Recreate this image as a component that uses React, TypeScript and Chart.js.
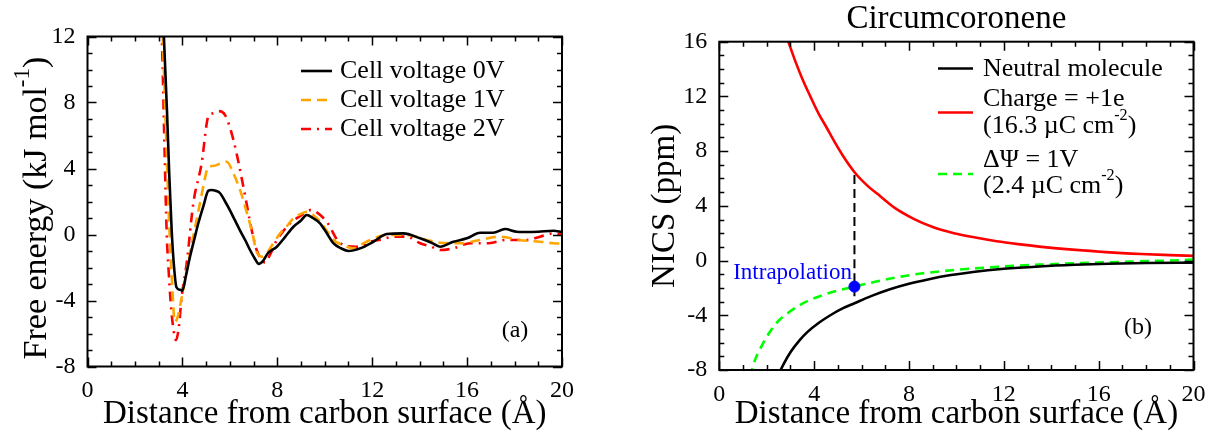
import React, { useEffect, useRef } from "react";
import { Chart, registerables } from "chart.js";

Chart.register(...registerables);

const SERIF = "'Liberation Serif', 'Times New Roman', Times, serif";
Chart.defaults.font.family = SERIF;
Chart.defaults.font.size = 24;
Chart.defaults.color = "#000";

// ---------------- Panel (a): free energy profiles ----------------
const distance0V = [3.15, 3.22, 3.35, 3.45, 3.55, 3.65, 3.75, 3.9, 4.0, 4.15, 4.32, 4.5, 4.67, 4.9, 5.09, 5.22, 5.4, 5.59, 5.8, 6.0, 6.2, 6.42, 6.65, 6.85, 7.05, 7.22, 7.4, 7.61, 7.98, 8.3, 8.68, 9.0, 9.24, 9.5, 9.8, 10.1, 10.36, 10.7, 11.0, 11.49, 12.05, 12.61, 13.31, 14.02, 14.5, 14.86, 15.42, 15.99, 16.55, 17.1, 17.6, 18.09, 18.6, 19.0, 19.64, 20.0];
const energy0V = [14.0, 12.0, 7.5, 3.5, 0.2, -2.0, -3.2, -3.35, -3.4, -2.5, -1.35, -0.3, 0.68, 1.8, 2.65, 2.7, 2.65, 2.5, 2.0, 1.48, 0.9, 0.27, -0.35, -0.94, -1.45, -1.78, -1.6, -1.12, -0.74, -0.2, 0.47, 0.85, 1.18, 1.0, 0.68, 0.05, -0.53, -0.85, -1.0, -0.84, -0.44, 0.03, 0.07, -0.23, -0.5, -0.74, -0.44, -0.23, 0.11, 0.11, 0.33, 0.17, 0.15, 0.17, 0.23, 0.15];

const distance1V = [3.1, 3.17, 3.3, 3.45, 3.55, 3.68, 3.8, 3.92, 4.04, 4.17, 4.3, 4.5, 4.74, 4.92, 5.09, 5.3, 5.6, 5.87, 6.15, 6.43, 6.7, 6.92, 7.13, 7.35, 7.55, 7.8, 8.12, 8.4, 8.68, 9.0, 9.24, 9.5, 9.8, 10.1, 10.36, 10.8, 11.2, 11.55, 11.91, 12.61, 13.46, 14.3, 14.86, 15.7, 16.55, 17.37, 18.2, 19.08, 19.64, 20.0];
const energy1V = [14.0, 12.0, 6.5, 0.4, -2.5, -5.3, -5.0, -4.2, -3.3, -2.3, -1.3, 0.2, 1.89, 3.2, 4.1, 4.15, 4.3, 4.41, 3.7, 2.7, 1.4, 0.27, -1.04, -1.35, -1.14, -0.6, 0.07, 0.5, 0.98, 1.25, 1.38, 1.2, 0.78, 0.2, -0.33, -0.65, -0.84, -0.6, -0.33, -0.03, -0.03, -0.33, -0.5, -0.53, -0.33, -0.13, -0.33, -0.44, -0.53, -0.55];

const distance2V = [3.05, 3.13, 3.25, 3.34, 3.42, 3.5, 3.6, 3.73, 3.85, 3.97, 4.18, 4.46, 4.81, 5.09, 5.3, 5.51, 5.8, 6.15, 6.57, 6.92, 7.13, 7.3, 7.48, 7.7, 7.98, 8.25, 8.54, 9.0, 9.38, 9.6, 10.08, 10.65, 11.35, 11.91, 12.4, 12.89, 13.46, 14.02, 14.5, 14.86, 15.42, 16.13, 16.83, 17.67, 18.52, 19.08, 19.64, 20.0];
const energy2V = [14.0, 12.0, 5.0, 0.0, -2.2, -4.0, -5.5, -6.4, -5.6, -3.77, -1.75, 1.89, 4.31, 7.14, 7.35, 7.48, 7.24, 5.73, 2.9, 0.27, -0.94, -1.45, -1.7, -1.2, -0.33, 0.2, 0.68, 1.15, 1.48, 1.4, 0.78, -0.53, -0.74, -0.44, -0.3, -0.13, -0.13, -0.53, -0.75, -0.94, -0.84, -0.53, -0.53, -0.33, -0.33, -0.13, 0.07, 0.0];

const seriesLabelsA = ["Cell voltage 0V", "Cell voltage 1V", "Cell voltage 2V"];

// ---------------- Panel (b): NICS of circumcoronene ----------------
const distanceNeutral = [2.45, 2.7, 3.0, 3.4, 3.7, 4.2, 4.7, 5.2, 5.7, 6.4, 7.2, 8.0, 8.8, 9.7, 10.7, 12.0, 13.5, 15.0, 16.4, 18.0, 20.0];
const nicsNeutral = [-8.5, -7.6, -6.7, -5.8, -5.25, -4.55, -3.98, -3.5, -3.12, -2.6, -2.1, -1.7, -1.38, -1.08, -0.83, -0.6, -0.43, -0.31, -0.23, -0.18, -0.15];

const distanceCharged = [2.85, 3.2, 3.5, 3.84, 4.2, 4.5, 4.82, 5.2, 5.73, 6.2, 6.79, 7.4, 8.2, 9.0, 9.9, 10.8, 11.7, 12.6, 13.5, 14.9, 16.3, 17.8, 19.0, 20.0];
const nicsCharged = [16.3, 14.6, 13.3, 12.0, 10.7, 9.8, 8.8, 7.7, 6.4, 5.55, 4.7, 3.85, 3.05, 2.45, 2.0, 1.68, 1.41, 1.2, 1.02, 0.8, 0.62, 0.48, 0.4, 0.34];

const distanceVoltage = [1.3, 1.5, 1.8, 2.1, 2.5, 3.0, 3.5, 4.0, 4.5, 5.0, 5.7, 6.5, 7.5, 8.5, 9.5, 10.7, 12.0, 13.5, 15.0, 16.5, 18.0, 19.0, 20.0];
const nicsVoltage = [-8.5, -7.3, -6.2, -5.3, -4.4, -3.7, -3.15, -2.75, -2.45, -2.2, -1.9, -1.58, -1.22, -0.95, -0.76, -0.58, -0.43, -0.3, -0.2, -0.12, -0.04, 0.0, 0.08];

const intrapolationX = [5.7, 5.7];
const intrapolationLineY = [-2.6, 6.35];
const intrapolationPointX = [5.7];
const intrapolationPointY = [-1.9];

const seriesLabelsB = ["Neutral molecule", "Charge = +1e (16.3 µC cm-2)", "ΔΨ = 1V (2.4 µC cm-2)"];

const toXY = (xs: number[], ys: number[]) => xs.map((x, i) => ({ x, y: ys[i] }));

type Part = { t: string; sup?: boolean };

function drawRich(ctx: CanvasRenderingContext2D, parts: Part[], x: number, y: number, size: number, color = "#000", align: "left" | "center" | "right" = "left", supScale = 0.62) {
  const widths: number[] = [];
  let total = 0;
  parts.forEach((p) => {
    ctx.font = `${p.sup ? size * supScale : size}px ${SERIF}`;
    const w = ctx.measureText(p.t).width;
    widths.push(w);
    total += w;
  });
  let cx = align === "center" ? x - total / 2 : align === "right" ? x - total : x;
  ctx.fillStyle = color;
  ctx.textAlign = "left";
  ctx.textBaseline = "middle";
  parts.forEach((p, i) => {
    ctx.font = `${p.sup ? size * supScale : size}px ${SERIF}`;
    ctx.fillText(p.t, cx, p.sup ? y - size * 0.4 : y);
    cx += widths[i];
  });
}

// inward ticks on all four sides + frame
const frameTicks = {
  id: "frameTicks",
  afterDatasetsDraw(chart: any) {
    const { ctx, chartArea } = chart;
    const { left, right, top, bottom } = chartArea;
    const xs = chart.scales.x;
    const ys = chart.scales.y;
    ctx.save();
    ctx.strokeStyle = "#000";
    ctx.lineWidth = 1.5;
    ctx.beginPath();
    for (let v = Math.ceil(xs.min); v <= xs.max; v += 1) {
      const len = Math.abs(v % 4) === 0 ? 9 : 5;
      const px = Math.round(xs.getPixelForValue(v)) + 0.5;
      ctx.moveTo(px, bottom);
      ctx.lineTo(px, bottom - len);
      ctx.moveTo(px, top);
      ctx.lineTo(px, top + len);
    }
    for (let v = Math.ceil(ys.min); v <= ys.max; v += 1) {
      const len = Math.abs(v % 4) === 0 ? 9 : 5;
      const py = Math.round(ys.getPixelForValue(v)) + 0.5;
      ctx.moveTo(left, py);
      ctx.lineTo(left + len, py);
      ctx.moveTo(right, py);
      ctx.lineTo(right - len, py);
    }
    ctx.stroke();
    ctx.lineWidth = 2;
    ctx.strokeRect(left, top, right - left, bottom - top);
    ctx.restore();
  },
};

type LegendEntry = { ds: number; lineY: number; rows: { y: number; parts: Part[] }[] };
type Note = { x: number; y: number; parts: Part[]; size: number; color: string; align: "left" | "center" | "right"; rotate?: boolean; supScale?: number };

function makeLegend(id: string, x1: number, x2: number, textX: number, size: number, entries: LegendEntry[], notes: Note[]) {
  return {
    id,
    afterDraw(chart: any) {
      const ctx: CanvasRenderingContext2D = chart.ctx;
      ctx.save();
      entries.forEach((e) => {
        const ds = chart.data.datasets[e.ds];
        ctx.beginPath();
        ctx.strokeStyle = ds.borderColor;
        ctx.lineWidth = ds.borderWidth;
        ctx.setLineDash(ds.borderDash || []);
        ctx.moveTo(x1, e.lineY);
        ctx.lineTo(x2, e.lineY);
        ctx.stroke();
        ctx.setLineDash([]);
        e.rows.forEach((r) => drawRich(ctx, r.parts, textX, r.y, size));
      });
      notes.forEach((n) => {
        if (n.rotate) {
          ctx.save();
          ctx.translate(n.x, n.y);
          ctx.rotate(-Math.PI / 2);
          drawRich(ctx, n.parts, 0, 0, n.size, n.color, n.align, n.supScale ?? 0.62);
          ctx.restore();
        } else {
          drawRich(ctx, n.parts, n.x, n.y, n.size, n.color, n.align, n.supScale ?? 0.62);
        }
      });
      ctx.restore();
    },
  };
}

function baseScales(yMin: number, yMax: number, yTitle: string, showYTitle: boolean, yWidth: number, yTitlePad: number, xHeight: number) {
  return {
    x: {
      type: "linear",
      min: 0,
      max: 20,
      ticks: { stepSize: 4, font: { family: SERIF, size: 24 }, color: "#000", padding: 2, autoSkip: false, maxRotation: 0 },
      grid: { display: false },
      border: { display: false },
      title: { display: true, text: "Distance from carbon surface (Å)", font: { family: SERIF, size: 33 }, color: "#000", padding: { top: 0, bottom: -1 } },
      afterFit: (s: any) => {
        s.height = xHeight;
      },
    },
    y: {
      type: "linear",
      min: yMin,
      max: yMax,
      ticks: { stepSize: 4, font: { family: SERIF, size: 24 }, color: "#000", padding: 4, autoSkip: false },
      grid: { display: false },
      border: { display: false },
      title: { display: showYTitle, text: yTitle, font: { family: SERIF, size: 33 }, color: "#000", padding: { top: yTitlePad, bottom: 0 } },
      afterFit: (s: any) => {
        s.width = yWidth;
      },
    },
  };
}

const lineBase = { pointRadius: 0, cubicInterpolationMode: "monotone", clip: 0, fill: false };

function configA(): any {
  return {
    type: "line",
    data: {
      datasets: [
        { ...lineBase, label: seriesLabelsA[0], data: toXY(distance0V, energy0V), borderColor: "#000000", borderWidth: 2.6 },
        { ...lineBase, label: seriesLabelsA[1], data: toXY(distance1V, energy1V), borderColor: "#ffa500", borderWidth: 2.6, borderDash: [10, 6] },
        { ...lineBase, label: seriesLabelsA[2], data: toXY(distance2V, energy2V), borderColor: "#ff0000", borderWidth: 2.6, borderDash: [10, 6, 2, 6] },
      ],
    },
    options: {
      animation: false,
      responsive: false,
      events: [],
      layout: { padding: { top: 36.5, right: 42, left: 0, bottom: 0 } },
      plugins: { legend: { display: false }, tooltip: { enabled: false }, title: { display: false } },
      scales: baseScales(-8, 12, "Free energy (kJ mol-1)", false, 87.5, 16, 66.5),
    },
    plugins: [
      frameTicks,
      makeLegend(
        "legendA",
        301,
        332,
        340,
        26,
        [
          { ds: 0, lineY: 71, rows: [{ y: 71, parts: [{ t: seriesLabelsA[0] }] }] },
          { ds: 1, lineY: 100, rows: [{ y: 100, parts: [{ t: seriesLabelsA[1] }] }] },
          { ds: 2, lineY: 129, rows: [{ y: 129, parts: [{ t: seriesLabelsA[2] }] }] },
        ],
        [
          { x: 515, y: 331, parts: [{ t: "(a)" }], size: 24, color: "#000", align: "center" },
          {
            x: 37,
            y: 208,
            parts: [{ t: "Free energy (kJ mol" }, { t: "-1", sup: true }, { t: ")" }],
            size: 34,
            color: "#000",
            align: "center",
            rotate: true,
            supScale: 0.68,
          },
        ]
      ),
    ],
  };
}

function configB(): any {
  return {
    type: "line",
    data: {
      datasets: [
        {
          label: "Intrapolation",
          data: toXY(intrapolationPointX, intrapolationPointY),
          showLine: false,
          pointRadius: 5.5,
          pointBackgroundColor: "#0000ff",
          pointBorderColor: "#0000ff",
          borderColor: "#0000ff",
          clip: 0,
        },
        { ...lineBase, label: "Intrapolation line", data: toXY(intrapolationX, intrapolationLineY), borderColor: "#000000", borderWidth: 2, borderDash: [9, 5] },
        { ...lineBase, label: seriesLabelsB[0], data: toXY(distanceNeutral, nicsNeutral), borderColor: "#000000", borderWidth: 2.6 },
        { ...lineBase, label: seriesLabelsB[1], data: toXY(distanceCharged, nicsCharged), borderColor: "#ff0000", borderWidth: 2.6 },
        { ...lineBase, label: seriesLabelsB[2], data: toXY(distanceVoltage, nicsVoltage), borderColor: "#00ff00", borderWidth: 2.6, borderDash: [9, 6] },
      ],
    },
    options: {
      animation: false,
      responsive: false,
      events: [],
      layout: { padding: { top: 0, right: 15.5, left: 0, bottom: 0 } },
      plugins: {
        legend: { display: false },
        tooltip: { enabled: false },
        title: {
          display: true,
          text: "Circumcoronene",
          fullSize: false,
          font: { family: SERIF, size: 33, weight: "normal" },
          color: "#000",
          padding: { top: 0, bottom: 2.1 },
        },
      },
      scales: baseScales(-8, 16, "NICS (ppm)", true, 114.3, 41, 63),
    },
    plugins: [
      frameTicks,
      makeLegend(
        "legendB",
        333,
        368,
        378,
        26,
        [
          { ds: 2, lineY: 68.5, rows: [{ y: 69, parts: [{ t: "Neutral molecule" }] }] },
          {
            ds: 3,
            lineY: 112.5,
            rows: [
              { y: 99, parts: [{ t: "Charge = +1e" }] },
              { y: 126, parts: [{ t: "(16.3 µC cm" }, { t: "-2", sup: true }, { t: ")" }] },
            ],
          },
          {
            ds: 4,
            lineY: 174,
            rows: [
              { y: 160, parts: [{ t: "ΔΨ = 1V" }] },
              { y: 186, parts: [{ t: "(2.4 µC cm" }, { t: "-2", sup: true }, { t: ")" }] },
            ],
          },
        ],
        [
          { x: 533, y: 328, parts: [{ t: "(b)" }], size: 24, color: "#000", align: "center" },
          { x: 247, y: 273, parts: [{ t: "Intrapolation" }], size: 23, color: "#0000ff", align: "right" },
        ]
      ),
    ],
  };
}

export default function App() {
  const leftRef = useRef<HTMLCanvasElement>(null);
  const rightRef = useRef<HTMLCanvasElement>(null);

  useEffect(() => {
    const a = new Chart(leftRef.current as HTMLCanvasElement, configA());
    const b = new Chart(rightRef.current as HTMLCanvasElement, configB());
    return () => {
      a.destroy();
      b.destroy();
    };
  }, []);

  return (
    <div style={{ position: "fixed", left: 0, top: 0, width: 1209, height: 433, background: "#fff" }}>
      <canvas ref={leftRef} width={604} height={433} style={{ position: "absolute", left: 0, top: 0, width: 604, height: 433 }} />
      <canvas ref={rightRef} width={604} height={433} style={{ position: "absolute", left: 605, top: 0, width: 604, height: 433 }} />
    </div>
  );
}
